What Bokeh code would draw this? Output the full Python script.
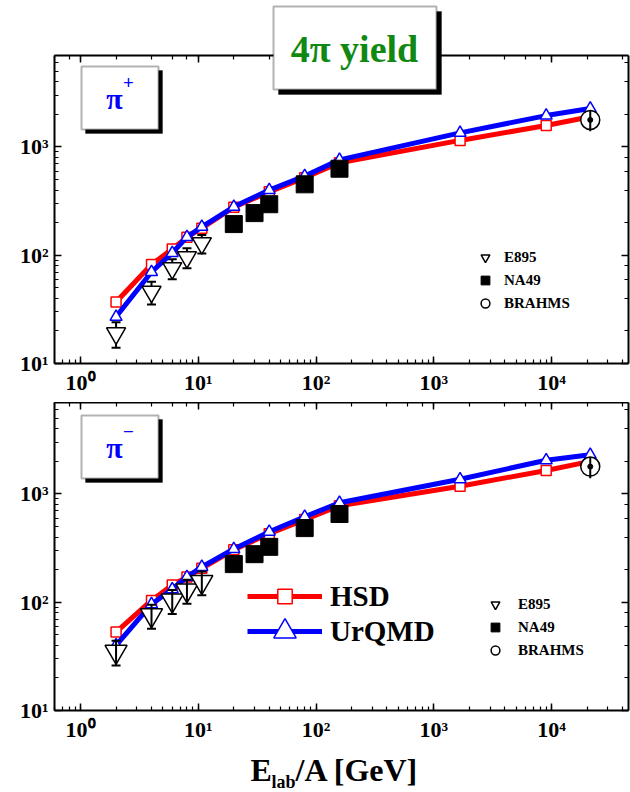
from bokeh.plotting import figure
from bokeh.models import (LogAxis, LogTicker, Range1d, Label, BoxAnnotation, Whisker,
                          TeeHead, ColumnDataSource, Legend, LegendItem,
                          CustomJSTickFormatter)
from bokeh.layouts import column
from bokeh.embed import file_html
from bokeh.resources import INLINE

# Beam energy per nucleon, E_lab/A [GeV]
e_model = [2, 4, 6, 8, 10.7, 20, 40, 80, 158, 1670, 9000, 21300]
e_e895 = [2, 4, 6, 8, 10.7]
e_na49 = [20, 30, 40, 80, 158]
e_brahms = [21300]

# pi+ 4pi yields
hsd_pip = [37, 82, 114, 147, 178, 278, 385, 520, 716, 1150, 1580, 1900]
urqmd_pip = [27, 70, 105, 147, 183, 280, 400, 540, 760, 1350, 1950, 2270]
e895_pip = [19, 46, 76, 96, 129]
e895_pip_err = [5, 11, 16, 20, 25]
na49_pip = [194, 245, 296, 452, 630]
na49_pip_err = [10, 12, 15, 22, 30]
brahms_pip = [1780]
brahms_pip_err = [380]

# pi- 4pi yields
hsd_pim = [53, 104, 144, 171, 206, 305, 430, 580, 780, 1180, 1650, 2000]
urqmd_pim = [40, 96, 132, 171, 212, 310, 448, 616, 830, 1370, 2050, 2300]
e895_pim = [35, 76, 104, 129, 154]
e895_pim_err = [9, 19, 26, 32, 38]
na49_pim = [225, 278, 325, 484, 653]
na49_pim_err = [11, 14, 16, 24, 32]
brahms_pim = [1790]
brahms_pim_err = [390]

FONT = "Liberation Serif"
RED = "#ff0000"
BLUE = "#0000ff"
GREEN = "#118811"

SUP_CODE = r"""
const sup = {"0":"\u2070","1":"\u00b9","2":"\u00b2","3":"\u00b3","4":"\u2074",
             "5":"\u2075","6":"\u2076","7":"\u2077","8":"\u2078","9":"\u2079","-":"\u207b"};
const e = Math.round(Math.log10(tick));
return "10" + String(e).split("").map(c => sup[c]).join("");
"""

CANVAS = dict(left_units="canvas", right_units="canvas", top_units="canvas",
              bottom_units="canvas")


def style_axis(ax, labels=True):
    ax.axis_line_width = 2
    ax.major_tick_in = 7
    ax.major_tick_out = 0
    ax.minor_tick_in = 4
    ax.minor_tick_out = 0
    ax.major_tick_line_width = 1.5
    ax.minor_tick_line_width = 1.2
    if labels:
        ax.major_label_text_font = FONT
        ax.major_label_text_font_style = "bold"
        ax.major_label_text_font_size = "22px"
        ax.major_label_text_color = "black"
        ax.major_label_standoff = 6
        ax.formatter = CustomJSTickFormatter(code=SUP_CODE)
    else:
        ax.major_label_text_font_size = "1px"
        ax.major_label_standoff = 0
        ax.formatter = CustomJSTickFormatter(code="return '';")


def add_box(p, left, right, top, bottom, shadow=4):
    p.add_layout(BoxAnnotation(left=left + shadow, right=right + shadow,
                               top=top + shadow, bottom=bottom + shadow,
                               fill_color="black", fill_alpha=1, line_color="black",
                               line_width=1, level="overlay", **CANVAS))
    p.add_layout(BoxAnnotation(left=left, right=right, top=top, bottom=bottom,
                               fill_color="white", fill_alpha=1, line_color="black",
                               line_width=2, level="overlay", **CANVAS))


def blank_figure(height):
    f = figure(width=630, height=height, x_range=Range1d(0, 1), y_range=Range1d(0, 1),
               output_backend="svg", toolbar_location=None, min_border=0,
               x_axis_location=None, y_axis_location=None)
    f.grid.visible = False
    f.outline_line_color = None
    f.background_fill_alpha = 0
    f.border_fill_alpha = 0
    return f


def make_panel(height, border_top, border_bottom, hsd, urqmd, e895, e895_err,
               na49, na49_err, brahms, brahms_err, e895_size, bars_on_top):
    p = figure(width=630, height=height, x_axis_type="log", y_axis_type="log",
               x_range=Range1d(0.6, 45000), y_range=Range1d(10, 7000),
               output_backend="svg", toolbar_location=None,
               min_border_left=54, min_border_right=2,
               min_border_top=border_top, min_border_bottom=border_bottom)
    p.grid.visible = False
    p.outline_line_color = None
    p.background_fill_color = "white"
    p.border_fill_color = "white"

    style_axis(p.xaxis[0])
    style_axis(p.yaxis[0])
    top_ax = LogAxis(ticker=LogTicker())
    right_ax = LogAxis(ticker=LogTicker())
    style_axis(top_ax, labels=False)
    style_axis(right_ax, labels=False)
    p.add_layout(top_ax, "above")
    p.add_layout(right_ax, "right")

    # transport model curves
    r_hsd_line = p.line(e_model, hsd, line_color=RED, line_width=5)
    r_hsd_pts = p.scatter(e_model, hsd, marker="square", size=10, line_color=RED,
                          fill_color="white", line_width=1.5)
    r_urq_line = p.line(e_model, urqmd, line_color=BLUE, line_width=5)
    r_urq_pts = p.scatter(e_model, urqmd, marker="triangle", size=12, line_color=BLUE,
                          fill_color="white", line_width=1.5)

    # E895
    src_e = ColumnDataSource(dict(x=e_e895, y=e895,
                                  lo=[v - d for v, d in zip(e895, e895_err)],
                                  hi=[v + d for v, d in zip(e895, e895_err)]))
    p.add_layout(Whisker(source=src_e, base="x", lower="lo", upper="hi", line_width=2,
                         upper_head=TeeHead(size=9, line_width=2),
                         lower_head=TeeHead(size=9, line_width=2),
                         level="annotation" if bars_on_top else "underlay"))
    r_e895 = p.scatter("x", "y", source=src_e, marker="inverted_triangle", size=e895_size,
                       line_color="black", fill_color="white", line_width=1.5)

    # NA49
    src_n = ColumnDataSource(dict(x=e_na49, y=na49,
                                  lo=[v - d for v, d in zip(na49, na49_err)],
                                  hi=[v + d for v, d in zip(na49, na49_err)]))
    p.add_layout(Whisker(source=src_n, base="x", lower="lo", upper="hi", line_width=1.5,
                         upper_head=TeeHead(size=6), lower_head=TeeHead(size=6),
                         level="underlay"))
    r_na49 = p.scatter("x", "y", source=src_n, marker="square", size=17,
                       line_color="black", fill_color="black")

    # BRAHMS
    src_b = ColumnDataSource(dict(x=e_brahms, y=brahms,
                                  lo=[v - d for v, d in zip(brahms, brahms_err)],
                                  hi=[v + d for v, d in zip(brahms, brahms_err)]))
    r_brahms = p.scatter("x", "y", source=src_b, marker="circle", size=19,
                         line_color="black", fill_color="white", line_width=1.5)
    p.add_layout(Whisker(source=src_b, base="x", lower="lo", upper="hi", line_width=2,
                         upper_head=TeeHead(size=1, line_alpha=0),
                         lower_head=TeeHead(size=1, line_alpha=0), level="annotation"))
    p.scatter("x", "y", source=src_b, marker="circle", size=5, line_color="black",
              fill_color="black")

    return p, dict(hsd=(r_hsd_line, r_hsd_pts), urqmd=(r_urq_line, r_urq_pts),
                   e895=r_e895, na49=r_na49, brahms=r_brahms)


def small_legend(p, r, loc, standoff):
    leg = Legend(items=[LegendItem(label="E895", renderers=[r["e895"]]),
                        LegendItem(label="NA49", renderers=[r["na49"]]),
                        LegendItem(label="BRAHMS", renderers=[r["brahms"]])],
                 location=loc, glyph_width=22, glyph_height=22, label_height=22,
                 spacing=1, padding=0, margin=0, label_standoff=standoff,
                 label_text_font=FONT, label_text_font_style="bold",
                 label_text_font_size="15px", label_text_color="black",
                 background_fill_alpha=0, border_line_alpha=0)
    p.add_layout(leg)


top, rt = make_panel(402, 55, 39, hsd_pip, urqmd_pip, e895_pip, e895_pip_err,
                     na49_pip, na49_pip_err, brahms_pip, brahms_pip_err, 19, False)
bot, rb = make_panel(343, 0, 35, hsd_pim, urqmd_pim, e895_pim, e895_pim_err,
                     na49_pim, na49_pim_err, brahms_pim, brahms_pim_err, 22, True)

small_legend(top, rt, (420, 49), 8)
small_legend(bot, rb, (430, 49), 12)

# model legend in the lower panel
for key, name, gh, loc in (("hsd", "HSD", 36, (193, 96)), ("urqmd", "UrQMD", 56, (193, 51))):
    leg = Legend(items=[LegendItem(label=name, renderers=list(rb[key]))],
                 location=loc, glyph_width=75, glyph_height=gh, label_height=gh,
                 padding=0, margin=0, label_standoff=8,
                 label_text_font=FONT, label_text_font_style="bold",
                 label_text_font_size="29px", label_text_color="black",
                 background_fill_alpha=0, border_line_alpha=0)
    bot.add_layout(leg)

# particle boxes
for p, sign, y0 in ((top, "+", 66), (bot, "\u2212", 13)):
    add_box(p, 81, 158, y0, y0 + 63)
    p.add_layout(Label(x=114, y=y0 + 32, x_units="canvas", y_units="canvas", text="\u03c0",
                       text_font=FONT, text_font_style="bold", text_font_size="30px",
                       text_color=BLUE, text_align="center", text_baseline="middle",
                       level="overlay"))
    p.add_layout(Label(x=128, y=y0 + 16, x_units="canvas", y_units="canvas", text=sign,
                       text_font=FONT, text_font_style="bold", text_font_size="19px",
                       text_color=BLUE, text_align="center", text_baseline="middle",
                       level="overlay"))

# title box, laid over the upper edge of the first panel
hdr = blank_figure(100)
hdr.margin = (-402, 0, 302, 0)
add_box(hdr, 273, 436, 6, 89, shadow=5)
hdr.add_layout(Label(x=354, y=48, x_units="canvas", y_units="canvas", text="4\u03c0 yield",
                     text_font=FONT, text_font_style="bold", text_font_size="38px",
                     text_color=GREEN, text_align="center", text_baseline="middle",
                     level="overlay"))

# x-axis title with subscript
ftr = blank_figure(47)
xl = dict(x_units="canvas", y_units="canvas", text_font=FONT, text_font_style="bold",
          text_color="black", text_baseline="middle", text_align="left")
ftr.add_layout(Label(x=250, y=24, text="E", text_font_size="32px", **xl))
ftr.add_layout(Label(x=271, y=36, text="lab", text_font_size="18px", **xl))
ftr.add_layout(Label(x=295, y=24, text="/A [GeV]", text_font_size="32px", **xl))

layout = column(top, hdr, bot, ftr)
open("out.html", "w").write(file_html(layout, INLINE))
